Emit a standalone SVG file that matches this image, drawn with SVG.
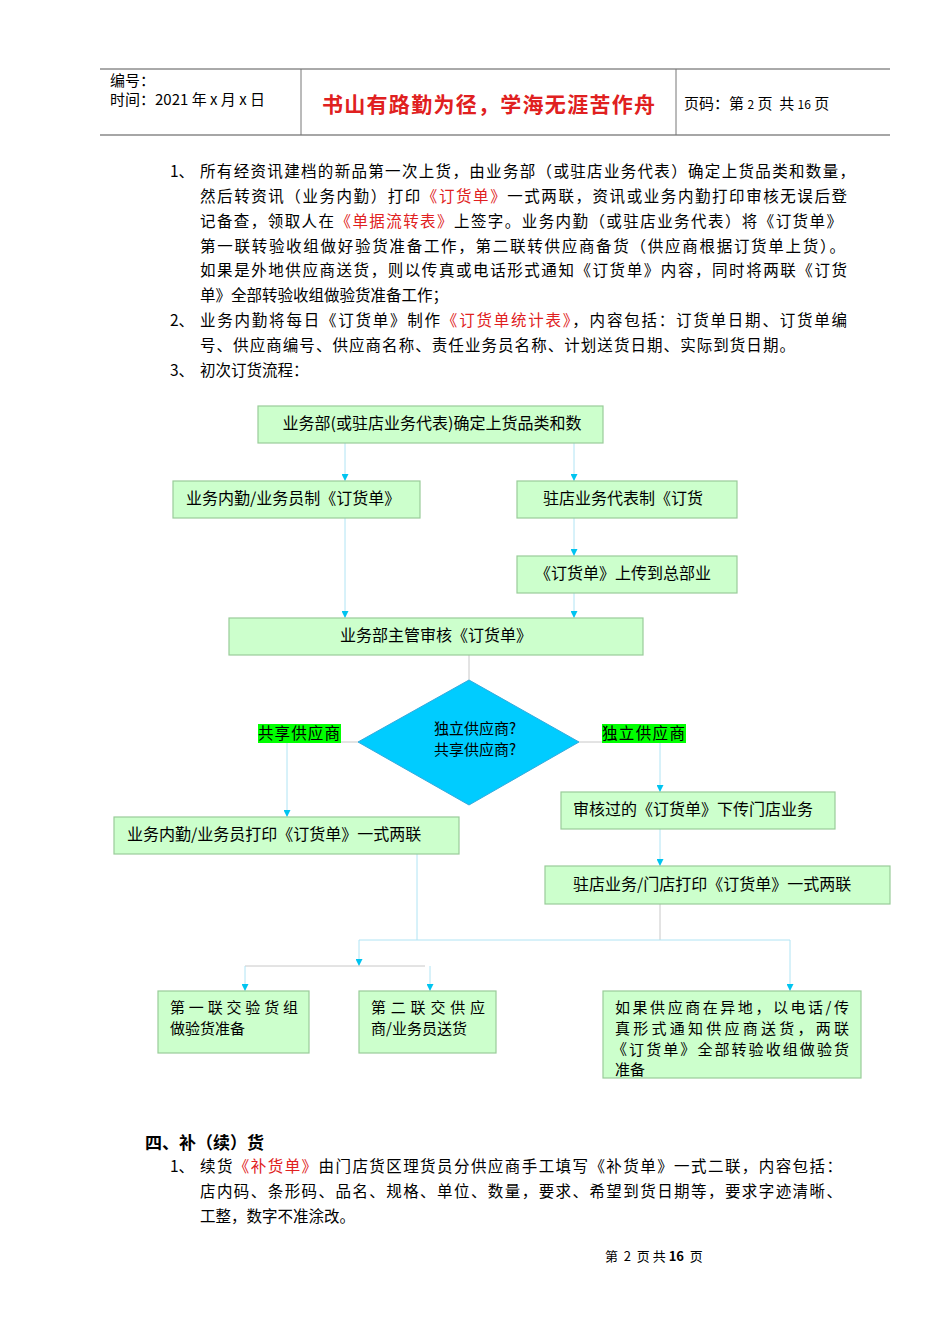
<svg xmlns="http://www.w3.org/2000/svg" width="950" height="1344" viewBox="0 0 950 1344">
<defs>
<style>
text{font-family:"Noto Sans CJK SC","Liberation Sans",sans-serif;fill:#000;white-space:pre}
.b{font-size:15.5px}
.r{fill:#e02020}
.n rect{fill:#ccffcc;stroke:#99cc99;stroke-width:1.2}
.n text{font-size:16px}
.n text.m{font-size:15px}
.c line,.c polyline{stroke:#b0e4f4;stroke-width:1;fill:none}
.c .g{stroke:#c8c8c8}
.lab{fill:#00ff00}
</style>
<marker id="a" viewBox="0 0 10 10" refX="10" refY="5" markerWidth="7" markerHeight="7" orient="auto" markerUnits="userSpaceOnUse"><path d="M0,0L10,5L0,10z" fill="#00c4f0"/></marker>
</defs>
<rect width="950" height="1344" fill="#fff"/>
<g id="header">
<line x1="100" y1="69" x2="890" y2="69" stroke="#555" stroke-width="1"/>
<line x1="100" y1="135" x2="890" y2="135" stroke="#888" stroke-width="1.5"/>
<line x1="301" y1="69" x2="301" y2="135" stroke="#777"/>
<line x1="676" y1="69" x2="676" y2="135" stroke="#777"/>
<text x="110" y="86" font-size="15">编号：</text>
<text x="110" y="105" font-size="15">时间：2021 年 x 月 x 日</text>
<text x="322" y="112" font-size="21" font-weight="bold" textLength="333" style="fill:#e02020">书山有路勤为径，学海无涯苦作舟</text>
<text x="684" y="109" font-size="15">页码：第 <tspan font-size="12">2</tspan> 页  共 <tspan font-size="12">16</tspan> 页</text>
</g>
<g id="body1">
<text class="b" x="170" y="177">1、</text>
<text class="b" x="200" y="177" textLength="655">所有经资讯建档的新品第一次上货，由业务部（或驻店业务代表）确定上货品类和数量，</text>
<text class="b" x="200" y="202" textLength="647">然后转资讯（业务内勤）打印<tspan class="r">《订货单》</tspan>一式两联，资讯或业务内勤打印审核无误后登</text>
<text class="b" x="200" y="227" textLength="642">记备查，领取人在<tspan class="r">《单据流转表》</tspan>上签字。业务内勤（或驻店业务代表）将《订货单》</text>
<text class="b" x="200" y="252" textLength="645">第一联转验收组做好验货准备工作，第二联转供应商备货（供应商根据订货单上货）。</text>
<text class="b" x="200" y="276" textLength="647">如果是外地供应商送货，则以传真或电话形式通知《订货单》内容，同时将两联《订货</text>
<text class="b" x="200" y="301">单》全部转验收组做验货准备工作；</text>
<text class="b" x="170" y="326">2、</text>
<text class="b" x="200" y="326" textLength="647">业务内勤将每日《订货单》制作<tspan class="r">《订货单统计表》</tspan>，内容包括：订货单日期、订货单编</text>
<text class="b" x="200" y="351" textLength="595">号、供应商编号、供应商名称、责任业务员名称、计划送货日期、实际到货日期。</text>
<text class="b" x="170" y="376">3、</text>
<text class="b" x="200" y="376">初次订货流程：</text>
</g>
<g class="c" id="connectors">
<line x1="345" y1="443" x2="345" y2="481" marker-end="url(#a)"/>
<line x1="574" y1="443" x2="574" y2="481" marker-end="url(#a)"/>
<line x1="345" y1="518" x2="345" y2="618" marker-end="url(#a)"/>
<line x1="574" y1="518" x2="574" y2="556" marker-end="url(#a)"/>
<line x1="574" y1="593" x2="574" y2="618" marker-end="url(#a)"/>
<line class="g" x1="469" y1="655" x2="469" y2="680"/>
<line class="g" x1="341" y1="742" x2="358" y2="742"/>
<line x1="287" y1="742" x2="287" y2="817" marker-end="url(#a)"/>
<line class="g" x1="579" y1="742" x2="602" y2="742"/>
<line x1="660" y1="742" x2="660" y2="792" marker-end="url(#a)"/>
<line x1="660" y1="829" x2="660" y2="866" marker-end="url(#a)"/>
<line x1="417" y1="854" x2="417" y2="940"/>
<line class="g" x1="660" y1="904" x2="660" y2="940"/>
<polyline points="359,940 790,940 790,991" marker-end="url(#a)"/>
<line x1="359" y1="940" x2="359" y2="966" marker-end="url(#a)"/>
<polyline class="g" points="245,966 425,966"/>
<line x1="245" y1="966" x2="245" y2="991" marker-end="url(#a)"/>
<line x1="430" y1="966" x2="430" y2="991" marker-end="url(#a)"/>
</g>
<g class="n" id="n1"><rect x="258" y="406" width="345" height="37"/><text x="432" y="429" text-anchor="middle">业务部(或驻店业务代表)确定上货品类和数</text></g>
<g class="n" id="n2"><rect x="173" y="481" width="247" height="37"/><text x="186" y="504">业务内勤/业务员制《订货单》</text></g>
<g class="n" id="n3"><rect x="517" y="481" width="220" height="37"/><text x="543" y="504">驻店业务代表制《订货</text></g>
<g class="n" id="n4"><rect x="517" y="556" width="220" height="37"/><text x="535" y="579">《订货单》上传到总部业</text></g>
<g class="n" id="n5"><rect x="229" y="618" width="414" height="37"/><text x="436" y="641" text-anchor="middle">业务部主管审核《订货单》</text></g>
<g id="decision"><polygon points="469,680 579,742 469,805 358,742" fill="#00ccff" stroke="#33aadd"/>
<text x="475" y="734" font-size="15" text-anchor="middle">独立供应商?</text><text x="475" y="755" font-size="15" text-anchor="middle">共享供应商?</text></g>
<g id="lab1"><rect class="lab" x="258" y="724" width="83" height="19"/><text x="258" y="739" font-size="15.5" textLength="82">共享供应商</text></g>
<g id="lab2"><rect class="lab" x="602" y="724" width="84" height="19"/><text x="602" y="739" font-size="15.5" textLength="83">独立供应商</text></g>
<g class="n" id="n6"><rect x="561" y="792" width="274" height="37"/><text x="573" y="815">审核过的《订货单》下传门店业务</text></g>
<g class="n" id="n7"><rect x="114" y="817" width="345" height="37"/><text x="127" y="840">业务内勤/业务员打印《订货单》一式两联</text></g>
<g class="n" id="n8"><rect x="545" y="866" width="345" height="38"/><text x="573" y="890">驻店业务/门店打印《订货单》一式两联</text></g>
<g class="n" id="n9"><rect x="158" y="991" width="151" height="62"/><text class="m" x="170" y="1013" textLength="128">第一联交验货组</text><text class="m" x="170" y="1034">做验货准备</text></g>
<g class="n" id="n10"><rect x="359" y="991" width="137" height="62"/><text class="m" x="371" y="1013" textLength="114">第二联交供应</text><text class="m" x="371" y="1034">商/业务员送货</text></g>
<g class="n" id="n11"><rect x="603" y="991" width="258" height="87"/><text class="m" x="615" y="1013" textLength="234">如果供应商在异地，以电话/传</text><text class="m" x="615" y="1034" textLength="234">真形式通知供应商送货，两联</text><text class="m" x="612" y="1055" textLength="237">《订货单》全部转验收组做验货</text><text class="m" x="615" y="1075">准备</text></g>
<g id="body2">
<text x="145" y="1149" font-size="17" font-weight="bold">四、补（续）货</text>
<text class="b" x="170" y="1172">1、</text>
<text class="b" x="200" y="1172" textLength="642">续货<tspan class="r">《补货单》</tspan>由门店货区理货员分供应商手工填写《补货单》一式二联，内容包括：</text>
<text class="b" x="200" y="1197" textLength="642">店内码、条形码、品名、规格、单位、数量，要求、希望到货日期等，要求字迹清晰、</text>
<text class="b" x="200" y="1222">工整，数字不准涂改。</text>
<text x="605" y="1261" font-size="13">第  2  页 共 <tspan font-weight="bold">16</tspan>  页</text>
</g>
</svg>
